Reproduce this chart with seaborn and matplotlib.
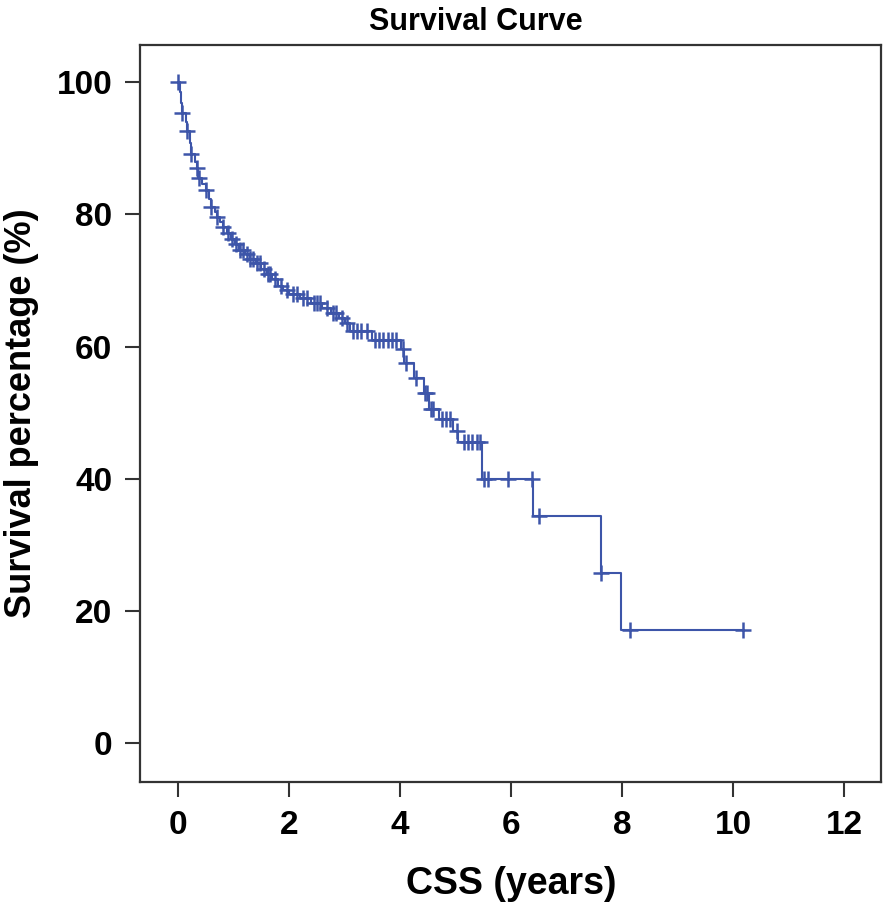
import numpy as np
import pandas as pd
import matplotlib
matplotlib.use('Agg')
import matplotlib.pyplot as plt
import seaborn as sns

# Kaplan-Meier steps: time (years) and survival (%) after each event
event_times = [0.0, 0.03, 0.05, 0.07, 0.15, 0.17, 0.21, 0.23, 0.30, 0.34, 0.37,
               0.44, 0.50, 0.56, 0.59, 0.66, 0.70, 0.76, 0.81, 0.88, 0.95, 1.02,
               1.10, 1.20, 1.30, 1.40, 1.50, 1.60, 1.70, 1.80, 1.90, 2.00, 2.20,
               2.40, 2.60, 2.75, 2.90, 3.00, 3.10, 3.50, 4.02, 4.08, 4.25, 4.43,
               4.52, 4.70, 4.95, 5.05, 5.48, 6.40, 7.62, 7.98]
surv_pct = [100.0, 98.5, 96.9, 95.3, 94.0, 92.6, 90.8, 89.1, 88.0, 87.0, 85.5,
            84.6, 83.7, 82.3, 81.1, 80.3, 79.6, 78.8, 78.1, 77.2, 76.3, 75.5,
            74.6, 74.0, 73.3, 72.6, 71.8, 71.0, 70.2, 69.2, 68.5, 67.9, 67.3,
            66.6, 65.9, 65.1, 64.3, 63.5, 62.4, 61.0, 59.6, 57.5, 55.3, 53.0,
            50.5, 49.0, 47.2, 45.6, 40.0, 34.3, 25.7, 17.1]

# censored observations (times)
censor_times = [0.0, 0.07, 0.17, 0.23, 0.34, 0.38, 0.50, 0.59, 0.70, 0.81, 0.90,
                0.98, 1.05, 1.12, 1.18, 1.25, 1.30, 1.35, 1.42, 1.48, 1.55, 1.62,
                1.66, 1.75, 1.85, 1.96, 2.07, 2.15, 2.25, 2.32, 2.45, 2.50, 2.55,
                2.68, 2.80, 2.85, 2.95, 3.05, 3.15, 3.22, 3.30, 3.40, 3.55, 3.62,
                3.70, 3.78, 3.85, 3.92, 4.05, 4.10, 4.28, 4.45, 4.48, 4.55, 4.60,
                4.75, 4.82, 4.90, 5.03, 5.15, 5.22, 5.30, 5.38, 5.44, 5.52, 5.58,
                5.95, 6.38, 6.51, 7.62, 8.14, 10.18]
last_follow_up = 10.18

x_ticks = [0, 2, 4, 6, 8, 10, 12]
y_ticks = [0, 20, 40, 60, 80, 100]

color = '#3d55a9'

sns.set_style('ticks')
plt.rcParams['font.family'] = ['Liberation Sans', 'DejaVu Sans']
plt.rcParams['text.color'] = 'black'
plt.rcParams['xtick.labelcolor'] = 'black'
plt.rcParams['ytick.labelcolor'] = 'black'
plt.rcParams['axes.labelcolor'] = 'black'

curve = pd.DataFrame({'time': event_times + [last_follow_up],
                      'surv': surv_pct + [surv_pct[-1]]})

idx = np.searchsorted(np.array(event_times), np.array(censor_times), side='right') - 1
censored = pd.DataFrame({'time': censor_times,
                         'surv': np.array(surv_pct)[idx]})

fig = plt.figure(figsize=(8.93, 9.07), dpi=100)
ax = fig.add_axes([0.157, 0.138, 0.830, 0.812])

sns.lineplot(data=curve, x='time', y='surv', drawstyle='steps-post',
             color=color, linewidth=1.5, ax=ax)
sns.scatterplot(data=censored, x='time', y='surv', marker='+', s=120,
                color=color, linewidth=1.8, ax=ax, zorder=3)

ax.set_xlim(-0.68, 12.67)
ax.set_ylim(-5.9, 105.6)
ax.set_xticks(x_ticks)
ax.set_yticks(y_ticks)
ax.tick_params(axis='both', direction='out', length=11, width=1.5,
               labelsize=24, pad=9, color='#333333')
for lab in ax.get_xticklabels() + ax.get_yticklabels():
    lab.set_fontweight('bold')

for s in ax.spines.values():
    s.set_linewidth(1.6)
    s.set_color('#333333')

ax.set_xlabel('CSS (years)', fontsize=27, fontweight='bold', labelpad=18)
ax.set_ylabel('Survival percentage (%)', fontsize=26, fontweight='bold')
ax.yaxis.set_label_coords(-0.137, 0.5)
ax.set_title('Survival Curve', fontsize=22, fontweight='bold', pad=11, x=0.453)

plt.savefig('out.png', dpi=100)
